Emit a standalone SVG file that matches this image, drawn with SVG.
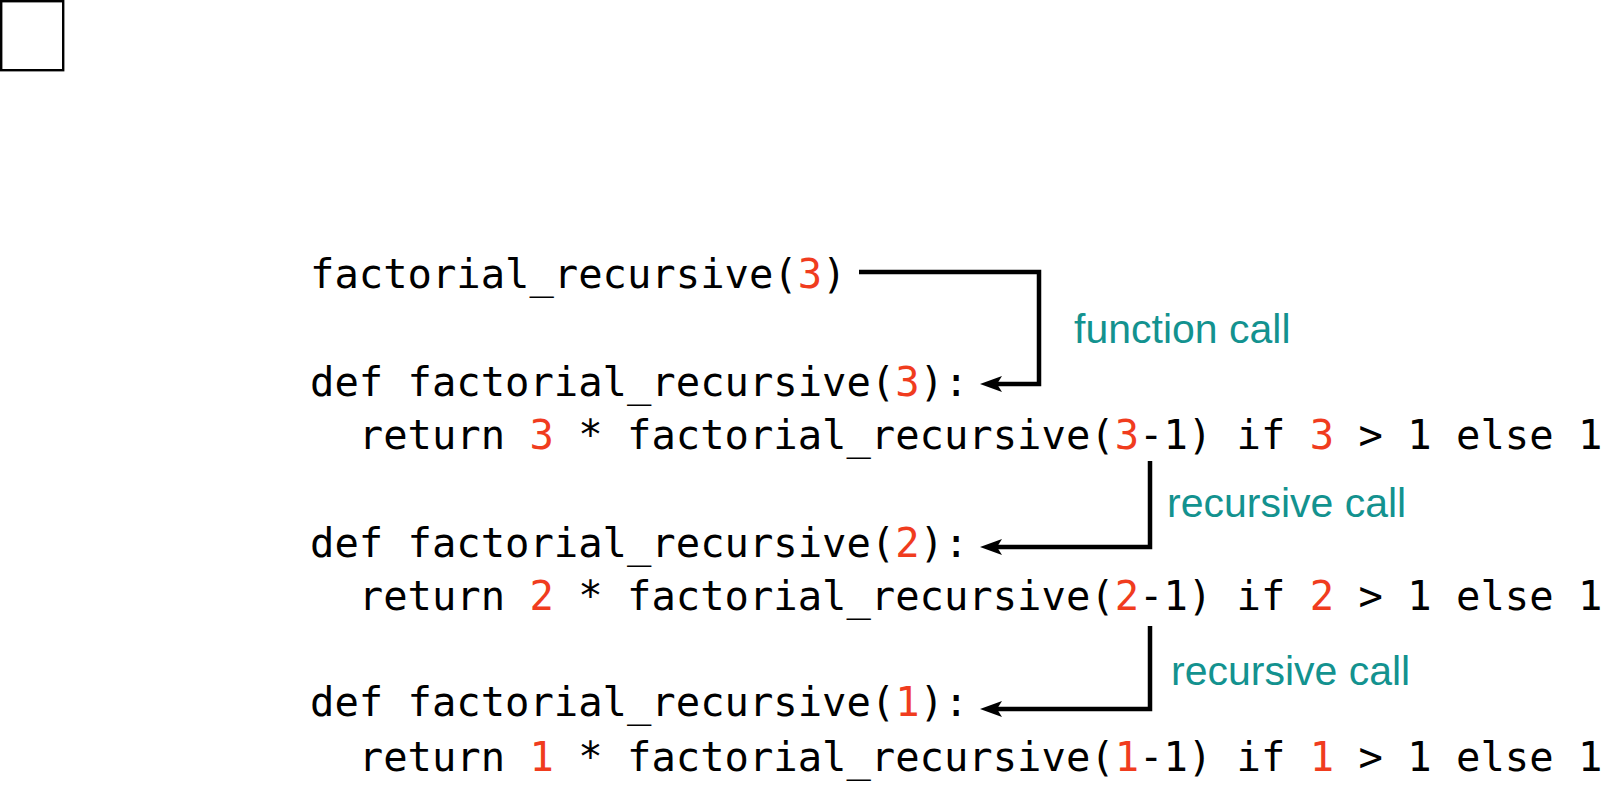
<svg xmlns="http://www.w3.org/2000/svg" width="1617" height="800" viewBox="0 0 1617 800">
<style>
.code{font-family:"DejaVu Sans Mono","Liberation Mono",monospace;font-size:40.5px;fill:#000}
.n{fill:#f03c1e}
.lbl{font-family:"Liberation Sans",Arial,sans-serif;font-size:41px;fill:#13928f}
.conn{fill:none;stroke:#000;stroke-width:4.5;stroke-linejoin:miter}
</style>
<defs>
<marker id="ah" markerUnits="userSpaceOnUse" markerWidth="24" markerHeight="18" refX="5" refY="8" orient="auto" viewBox="0 0 24 18">
<path d="M0,0 L22,8 L0,16 L5,8 z" fill="#000"/>
</marker>
</defs>
<rect x="1.2" y="1.2" width="62" height="69" fill="#fff" stroke="#000" stroke-width="2.4"/>
<g id="call">
<text class="code" x="310" y="288" xml:space="preserve">factorial_recursive(<tspan class="n">3</tspan>)</text>
</g>
<g id="def3">
<text class="code" x="310" y="396" xml:space="preserve">def factorial_recursive(<tspan class="n">3</tspan>):</text>
<text class="code" x="310" y="449" xml:space="preserve">  return <tspan class="n">3</tspan> * factorial_recursive(<tspan class="n">3</tspan>-1) if <tspan class="n">3</tspan> &gt; 1 else 1</text>
</g>
<g id="def2">
<text class="code" x="310" y="557" xml:space="preserve">def factorial_recursive(<tspan class="n">2</tspan>):</text>
<text class="code" x="310" y="610" xml:space="preserve">  return <tspan class="n">2</tspan> * factorial_recursive(<tspan class="n">2</tspan>-1) if <tspan class="n">2</tspan> &gt; 1 else 1</text>
</g>
<g id="def1">
<text class="code" x="310" y="716" xml:space="preserve">def factorial_recursive(<tspan class="n">1</tspan>):</text>
<text class="code" x="310" y="771" xml:space="preserve">  return <tspan class="n">1</tspan> * factorial_recursive(<tspan class="n">1</tspan>-1) if <tspan class="n">1</tspan> &gt; 1 else 1</text>
</g>
<g id="connectors">
<polyline class="conn" points="859,272 1039,272 1039,384 997,384" marker-end="url(#ah)"/>
<polyline class="conn" points="1150,461 1150,547 997,547" marker-end="url(#ah)"/>
<polyline class="conn" points="1150,626 1150,709 997,709" marker-end="url(#ah)"/>
</g>
<g id="labels">
<text class="lbl" x="1074" y="343">function call</text>
<text class="lbl" x="1167" y="517">recursive call</text>
<text class="lbl" x="1171" y="685">recursive call</text>
</g>
</svg>
